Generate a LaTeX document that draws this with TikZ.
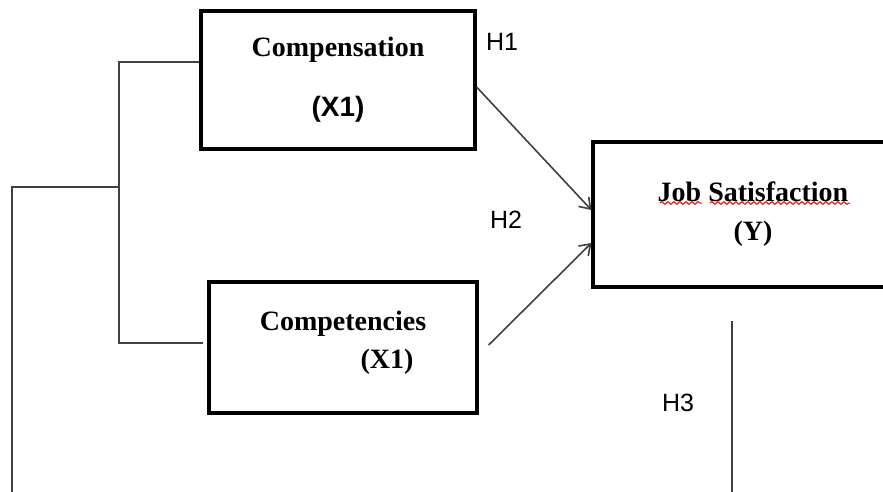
\documentclass[tikz,border=0pt]{standalone}
\usepackage{fontspec}
\setmainfont{Liberation Serif}
\setsansfont{Liberation Sans}
\usepackage{tikz}
\usetikzlibrary{arrows.meta,decorations.pathmorphing}
\begin{document}
\begin{tikzpicture}[
  x=0.5pt,y=-0.5pt,
  font=\fontsize{14}{17}\selectfont\bfseries,
  >={Straight Barb[length=5pt,width=7pt]},
  box/.style={draw=black,line width=1.6pt,inner sep=0pt,align=center},
  arr/.style={->,line width=0.8pt,black!75},
  link/.style={line width=0.8pt,black!75},
  hyp/.style={font=\sffamily\fontsize{12.5}{15}\selectfont},
  spell/.style={red,line width=0.5pt,decorate,decoration={snake,amplitude=0.7pt,segment length=3pt}}
]
  \useasboundingbox (0,0) rectangle (883,492);

  \node[box,minimum width=137pt,minimum height=69pt] (comp) at (338,80)
    {Compensation\\[13pt]\textsf{(X1)}};
  \node[box,minimum width=134pt,minimum height=65.5pt,text depth=7.5pt] (compt) at (343,347.5)
    {Competencies\\[2pt]\hspace*{44pt}(X1)};
  \node[box,minimum width=160pt,minimum height=72.5pt] (job) at (753,214.5)
    {Job Satisfaction\\[2.5pt](Y)};

  \node[hyp] (hone) at (502,42) {H1};
  \node[hyp] (htwo) at (506,220) {H2};
  \node[hyp] (hthree) at (678,403) {H3};

  \coordinate (brtop) at (119,62);
  \coordinate (brmid) at (119,187);
  \coordinate (brbot) at (119,343);
  \coordinate (brend) at (203,343);
  \coordinate (outer) at (12,187);
  \coordinate (outend) at (12,492);
  \coordinate (ytop) at (732,321);
  \coordinate (yend) at (732,492);

  \draw[link] (comp.west |- brtop) -- (brtop) -- (brbot) -- (brend);
  \draw[link] (brmid) -- (outer) -- (outend);
  \draw[link] (ytop) -- (yend);

  \draw[arr] ([yshift=-3.5pt]comp.east) -- ([yshift=2.25pt]job.west);
  \draw[arr] ([xshift=5pt,yshift=1.25pt]compt.east) -- ([yshift=-14.25pt]job.west);

  \draw[spell] (660,203) -- (702,203);
  \draw[spell] (710,203) -- (850,203);
\end{tikzpicture}
\end{document}
